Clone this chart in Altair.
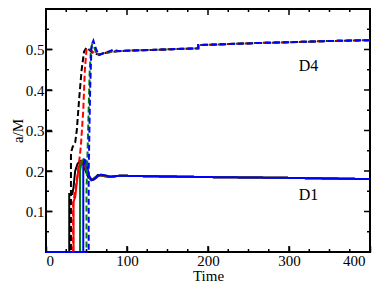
import altair as alt
import pandas as pd

# ---------------- data ----------------
# D1 (solid lines)
d1_black_t = [0, 28.7, 28.7, 32.5, 34, 36, 39, 42, 45, 48, 52, 56, 60, 64, 70, 78, 85]
d1_black_v = [0, 0, 0.143, 0.143, 0.16, 0.2, 0.218, 0.225, 0.222, 0.205, 0.185, 0.178, 0.183, 0.19, 0.188, 0.185, 0.187]
d1_red_t = [0, 34, 34, 36, 38, 40, 42, 44, 47, 50, 54, 58, 62, 66, 72, 80, 85]
d1_red_v = [0, 0, 0.125, 0.135, 0.17, 0.205, 0.22, 0.225, 0.218, 0.2, 0.183, 0.178, 0.183, 0.19, 0.188, 0.185, 0.187]
d1_green_t = [0, 42, 42, 44, 46, 48, 51, 54, 58, 62, 66, 72, 80, 85]
d1_green_v = [0, 0, 0.2, 0.222, 0.228, 0.222, 0.2, 0.182, 0.178, 0.185, 0.19, 0.189, 0.186, 0.187]
d1_blue_t = [0, 46, 46, 47.5, 49, 51, 53, 56, 60, 64, 68, 74, 80, 85]
d1_blue_v = [0, 0, 0.21, 0.228, 0.226, 0.21, 0.19, 0.177, 0.18, 0.188, 0.191, 0.189, 0.186, 0.187]
d1_tail_t = [90, 100, 130, 200, 300, 400]
d1_tail_v = [0.188, 0.188, 0.187, 0.185, 0.183, 0.18]

# D4 (dashed lines)
d4_black_t = [0, 30.8, 30.8, 33, 36, 38, 41, 44, 47, 50, 53, 57, 62, 66, 72, 80]
d4_black_v = [0, 0, 0.245, 0.26, 0.27, 0.3, 0.38, 0.45, 0.495, 0.505, 0.5, 0.493, 0.489, 0.488, 0.491, 0.494]
d4_red_t = [0, 33.5, 33.5, 36, 39, 43, 46, 48, 50, 53, 57, 62, 66, 72, 80]
d4_red_v = [0, 0, 0.12, 0.15, 0.19, 0.26, 0.35, 0.45, 0.5, 0.503, 0.495, 0.49, 0.488, 0.491, 0.494]
d4_green_t = [0, 50, 50, 52, 54, 55.5, 57, 59, 62, 65, 70, 76, 80]
d4_green_v = [0, 0, 0.15, 0.3, 0.45, 0.5, 0.513, 0.508, 0.492, 0.486, 0.49, 0.493, 0.495]
d4_blue_t = [0, 52.7, 52.7, 54.5, 56, 57, 58.5, 61, 65, 70, 76, 80, 83]
d4_blue_v = [0, 0, 0.2, 0.4, 0.5, 0.515, 0.522, 0.505, 0.486, 0.49, 0.494, 0.497, 0.5]
d4_tail_t = [90, 100, 130, 160, 188, 188, 220, 260, 300, 350, 400]
d4_tail_v = [0.496, 0.497, 0.499, 0.501, 0.503, 0.511, 0.513, 0.516, 0.518, 0.521, 0.523]

colors = ["black", "red", "green", "blue"]
label_text = ["D4", "D1"]
label_t = [324, 324]
label_v = [0.46, 0.14]

x_major = [0, 100, 200, 300, 400]
x_minor = [25, 50, 75, 125, 150, 175, 225, 250, 275, 325, 350, 375]
y_major = [0.1, 0.2, 0.3, 0.4, 0.5]
y_minor = [0.05, 0.15, 0.25, 0.35, 0.45, 0.55]

# ---------------- layout / style ----------------
W, H = 324, 243
FONT = "Liberation Serif"
X_MIN, X_MAX, Y_MIN, Y_MAX = 0, 400, 0, 0.6
MAJ_PX, MIN_PX = 6, 3

# ---------------- tables ----------------
series = [
    ("D1", "black", d1_black_t + d1_tail_t, d1_black_v + d1_tail_v),
    ("D1", "red", d1_red_t + d1_tail_t, d1_red_v + d1_tail_v),
    ("D1", "green", d1_green_t + d1_tail_t, d1_green_v + d1_tail_v),
    ("D1", "blue", d1_blue_t + d1_tail_t, d1_blue_v + d1_tail_v),
    ("D4", "black", d4_black_t + d4_tail_t, d4_black_v + d4_tail_v),
    ("D4", "red", d4_red_t + d4_tail_t, d4_red_v + d4_tail_v),
    ("D4", "green", d4_green_t + d4_tail_t, d4_green_v + d4_tail_v),
    ("D4", "blue", d4_blue_t + d4_tail_t, d4_blue_v + d4_tail_v),
]
rows = []
for k, (grp, col, ts, vs) in enumerate(series):
    for i, (t, v) in enumerate(zip(ts, vs)):
        rows.append({"t": t, "v": v, "group": grp, "color": col, "key": f"{k}", "i": i})
df = pd.DataFrame(rows)
labels_df = pd.DataFrame({"t": label_t, "v": label_v, "text": label_text})

# inward tick marks on all four sides, each a two-point segment through the scales
dy_maj = MAJ_PX / H * (Y_MAX - Y_MIN)
dy_min = MIN_PX / H * (Y_MAX - Y_MIN)
dx_maj = MAJ_PX / W * (X_MAX - X_MIN)
dx_min = MIN_PX / W * (X_MAX - X_MIN)
tick_rows = []
n = 0
for vals, d in ((x_major, dy_maj), (x_minor, dy_min)):
    for t in vals:
        for a, b in ((Y_MIN, Y_MIN + d), (Y_MAX, Y_MAX - d)):
            tick_rows += [{"id": n, "t": t, "v": a, "j": 0}, {"id": n, "t": t, "v": b, "j": 1}]
            n += 1
for vals, d in ((y_major, dx_maj), (y_minor, dx_min)):
    for v in vals:
        for a, b in ((X_MIN, X_MIN + d), (X_MAX, X_MAX - d)):
            tick_rows += [{"id": n, "t": a, "v": v, "j": 0}, {"id": n, "t": b, "v": v, "j": 1}]
            n += 1
ticks_df = pd.DataFrame(tick_rows)

# ---------------- chart ----------------
x_scale = alt.Scale(domain=[X_MIN, X_MAX], nice=False, zero=False)
y_scale = alt.Scale(domain=[Y_MIN, Y_MAX], nice=False, zero=False)

x_axis = alt.Axis(
    orient="bottom", values=x_major, ticks=True, tickSize=alt.ExprRef("-6"), tickWidth=1.5,
    tickColor="black", domain=False, grid=False,
    labelPadding=7, labelFontSize=15, title="Time", titleFontSize=15, titlePadding=0,
    labelOffset={"condition": {"test": "datum.value == 400", "value": -5}, "value": 0},
)
y_axis = alt.Axis(
    orient="left", values=y_major, format=".1f", ticks=True, tickSize=alt.ExprRef("-6"),
    tickWidth=1.5, tickColor="black", domain=False,
    grid=False, labelPadding=8, labelFontSize=15, title="a/M", titleFontSize=15, titlePadding=0,
)

X = alt.X("t:Q", scale=x_scale, axis=x_axis, title="Time")
Y = alt.Y("v:Q", scale=y_scale, axis=y_axis, title="a/M")

lines = alt.Chart(df).mark_line(strokeWidth=2).encode(
    x=X,
    y=Y,
    color=alt.Color("color:N", scale=alt.Scale(domain=colors, range=colors), legend=None),
    strokeDash=alt.StrokeDash("group:N", scale=alt.Scale(domain=["D1", "D4"], range=[[1, 0], [6, 3]]), legend=None),
    detail="key:N",
    order="i:Q",
)

ticks = alt.Chart(ticks_df).mark_line(color="black", strokeWidth=1.5).encode(
    x=X, y=Y, detail="id:N", order="j:Q",
)

texts = alt.Chart(labels_df).mark_text(font=FONT, fontSize=16, color="black").encode(
    x=X, y=Y, text="text:N",
)

chart = (
    alt.layer(lines, ticks, texts)
    .properties(width=W, height=H, autosize=alt.AutoSizeParams(type="none"),
                padding={"left": 38, "top": 1, "right": 7, "bottom": 30},
                background="white")
    .configure_view(stroke="black", strokeWidth=2)
    .configure_axis(labelFont=FONT, titleFont=FONT, labelColor="black", titleColor="black",
                    titleFontWeight="normal")
)

chart.save("out.html", embed_options={"renderer": "svg", "actions": False})
